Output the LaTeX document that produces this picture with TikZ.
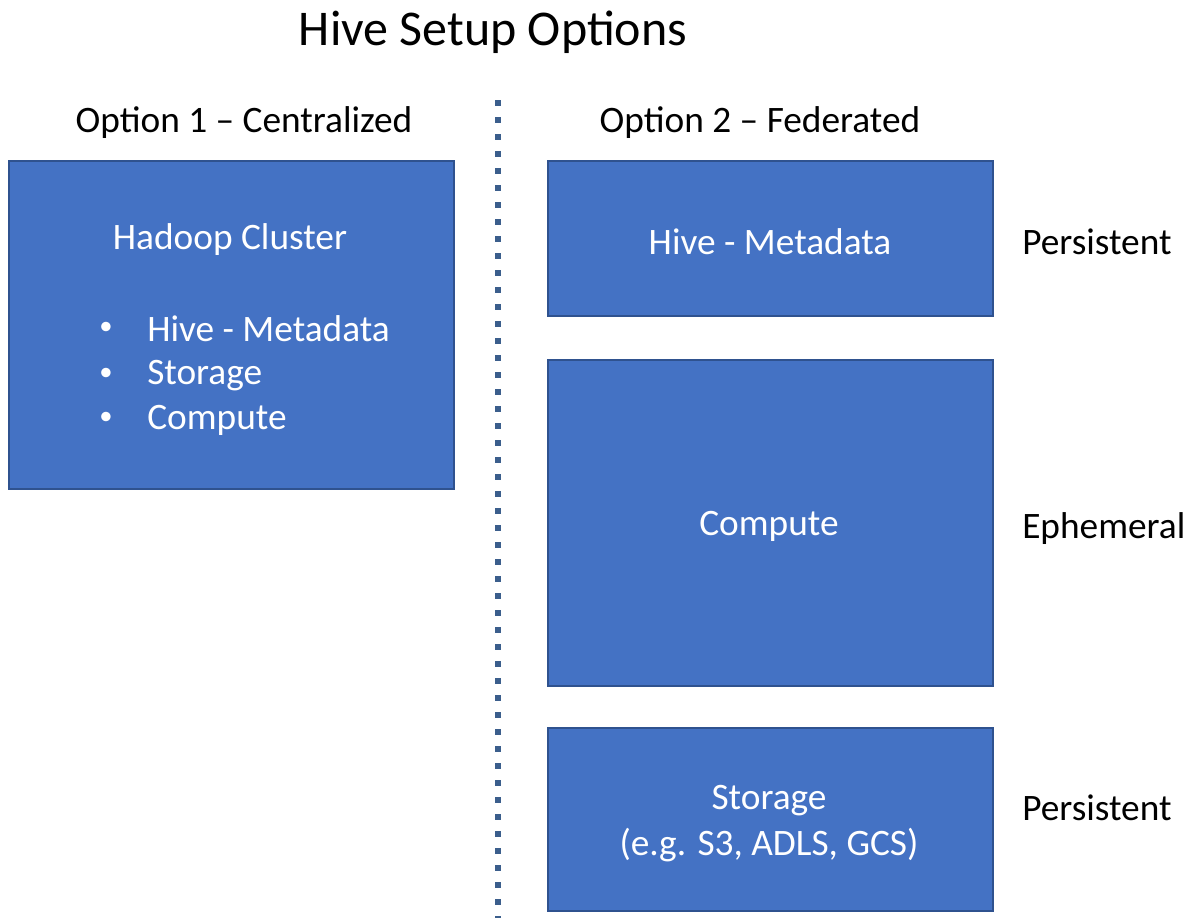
\documentclass[tikz,border=0pt]{standalone}
\usepackage{fontspec}
\setmainfont{Carlito}
\definecolor{boxblue}{HTML}{4472C4}
\definecolor{boxedge}{HTML}{2F528F}
\definecolor{dotcol}{HTML}{3B5E8C}
\begin{document}
\begin{tikzpicture}[x=0.75pt,y=-0.75pt,
  blk/.style={draw=boxedge,line width=1.1pt,fill=boxblue},
  wtxt/.style={text=white,font=\fontsize{28}{34}\selectfont,inner sep=0pt},
  btxt/.style={text=black,font=\fontsize{28}{34}\selectfont,inner sep=0pt},
  bul/.style={text=white,font=\fontsize{20}{24}\selectfont,inner sep=0pt},
  ttl/.style={text=black,font=\fontsize{37.5}{44}\selectfont,inner sep=0pt}]
\useasboundingbox (0,0) rectangle (1196,918);
\fill[white] (0,0) rectangle (1196,918);
% divider
\coordinate (dtop) at (498,100);
\coordinate (dbot) at (498,918);
\draw[dotcol,line width=4.5pt,dash pattern=on 4.5pt off 8.25pt] (dtop) -- (dbot);
% boxes
\draw[blk] (9,161) rectangle (454,489);
\draw[blk] (548,161) rectangle (993,316);
\draw[blk] (548,360) rectangle (993,686);
\draw[blk] (548,728) rectangle (993,911);
% texts
\node[ttl] (title) at (493,32) {Hive Setup Options};
\node[btxt] (opt1) at (244,123) {Option 1 – Centralized};
\node[btxt] (opt2) at (760,123) {Option 2 – Federated};
\node[wtxt] (hc) at (230,240) {Hadoop Cluster};
\node[wtxt,anchor=west] (b1) at (147,329) {Hive - Metadata};
\node[wtxt,anchor=west] (b2) at (147,376) {Storage};
\node[wtxt,anchor=west] (b3) at (147,420) {Compute};
\node[bul] (d1) at (106,328) {•};
\node[bul] (d2) at (106,374) {•};
\node[bul] (d3) at (106,418) {•};
\node[wtxt] (hm) at (770,242) {Hive - Metadata};
\node[wtxt] (cp) at (769,526) {Compute};
\node[wtxt] (st) at (769,801) {Storage};
\node[wtxt] (eg) at (769,845) {(e.g. S3, ADLS, GCS)};
\node[btxt,anchor=west] (p1) at (1022,242) {Persistent};
\node[btxt,anchor=west] (ep) at (1022,529) {Ephemeral};
\node[btxt,anchor=west] (p2) at (1022,808) {Persistent};
\end{tikzpicture}
\end{document}
